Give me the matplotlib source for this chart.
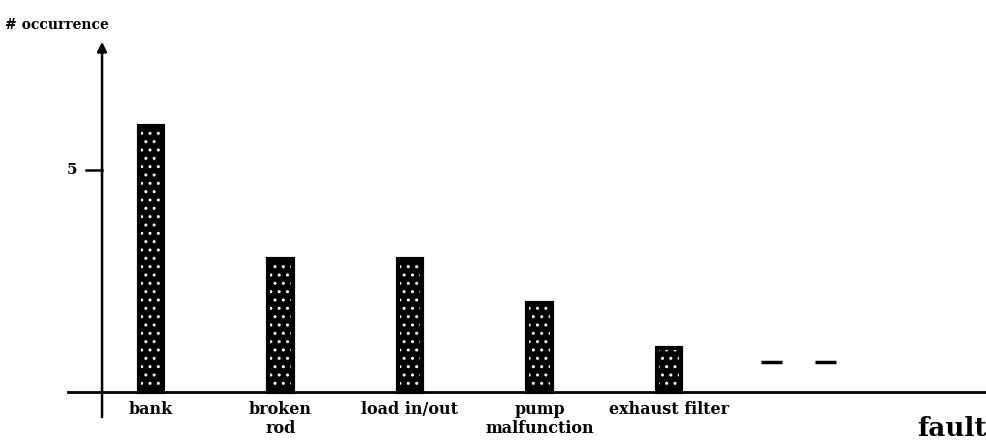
import numpy as np
import matplotlib.pyplot as plt

faults = ["bank", "broken\nrod", "load in/out", "pump\nmalfunction", "exhaust filter"]
occurrences = [6, 3, 3, 2, 1]
other_faults_level = 0.68   # the two dashes after "exhaust filter"
y_ticks = [5]

plt.rcParams['font.family'] = ['DejaVu Serif']
plt.rcParams['hatch.linewidth'] = 1.0

fig = plt.figure(figsize=(9.86, 4.42), dpi=100)
ax = fig.add_axes([0, 0, 1, 1])
ax.set_xlim(-1.166, 6.448)
ax.set_ylim(-1.126, 8.83)
ax.axis('off')

x = np.arange(len(faults))
ax.bar(x, occurrences, width=0.19, color='black', zorder=2)
ax.bar(x, occurrences, width=0.19, facecolor='none', edgecolor='white',
       hatch='..', linewidth=0, zorder=3)
# black rim so the speckle stays inside
ax.bar(x, occurrences, width=0.19, facecolor='none', edgecolor='black',
       linewidth=3, zorder=4)

# "more" placeholders
n = len(faults)
ax.hlines([other_faults_level] * 2, [n - 0.29, n + 0.13], [n - 0.13, n + 0.29],
          color='black', linewidth=2.5, zorder=2)

# axes drawn by hand
ax.plot([-0.64, 6.45], [0, 0], color='black', linewidth=2, zorder=5)
ax.annotate('', xy=(-0.378, 7.95), xytext=(-0.378, -0.63),
            arrowprops=dict(arrowstyle='-|>', color='black', lw=1.8,
                            mutation_scale=14))
for t in y_ticks:
    ax.plot([-0.5, -0.378], [t, t], color='black', linewidth=1.8)
    ax.text(-0.57, t, str(t), ha='right', va='center', fontsize=11,
            fontweight='bold')

for xi, name in zip(x, faults):
    ax.text(xi, -0.2, name, ha='center', va='top', fontsize=11.5,
            fontweight='bold', linespacing=1.15)

ax.text(-1.13, 8.27, "# occurrence", ha='left', va='center', fontsize=10,
        fontweight='bold')
ax.text(5.92, -0.98, "fault", ha='left', va='baseline', fontsize=19,
        fontweight='bold')

plt.savefig("out.png", dpi=100)
